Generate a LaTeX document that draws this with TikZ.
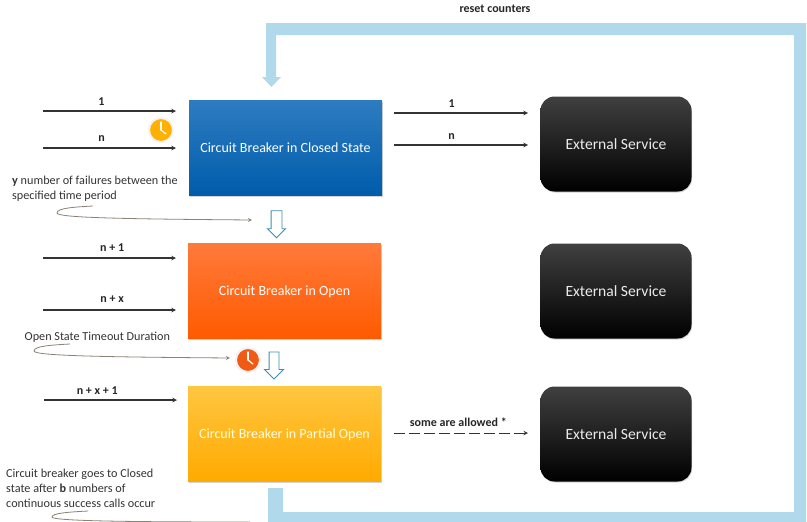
\documentclass[tikz,border=0pt]{standalone}
\usepackage{fontspec}
\setmainfont{Carlito}
\usetikzlibrary{shapes.arrows,shadows}

\definecolor{loopblue}{HTML}{B0DAEC}
\definecolor{stepblue}{HTML}{3A8FB0}
\definecolor{notegray}{HTML}{333333}
\definecolor{curvegray}{HTML}{8A8274}
\definecolor{closedtop}{HTML}{2E7CC0}
\definecolor{closedmid}{HTML}{0070C0}
\definecolor{closedlow}{HTML}{005CAB}
\definecolor{opentop}{HTML}{FF7A3A}
\definecolor{openmid}{HTML}{FF600A}
\definecolor{openlow}{HTML}{FF5A00}
\definecolor{partialtop}{HTML}{FFC640}
\definecolor{partialmid}{HTML}{FFC000}
\definecolor{partiallow}{HTML}{FFAA00}
\definecolor{clockyellow}{HTML}{FFB000}
\definecolor{clockorange}{HTML}{F05A14}

\tikzset{
  statebox/.style={draw=none,minimum width=193pt,minimum height=95pt,inner sep=0pt,
    text=white,font=\fontsize{14}{16}\selectfont,text height=12.5pt,text depth=3pt,
    drop shadow={shadow xshift=0.6pt,shadow yshift=-1pt,opacity=0.35}},
  servicebox/.style={draw=none,rounded corners=14pt,minimum width=151pt,minimum height=95pt,
    inner sep=0pt,text=white!92!black,top color=black!75,middle color=black,bottom color=black,
    font=\fontsize{15.6}{18}\selectfont,
    drop shadow={shadow xshift=0.6pt,shadow yshift=-1pt,opacity=0.35}},
  callline/.style={draw=black!80,line width=1.1pt,-stealth},
  calllabel/.style={above=3pt,inner sep=0pt,text=black!85,font=\fontsize{12}{14}\selectfont\bfseries},
  note/.style={anchor=north west,align=left,inner sep=0pt,text=notegray,
    font=\fontsize{12.2}{15}\selectfont},
  curveline/.style={draw=curvegray,line width=0.8pt},
  stepdown/.style={single arrow,draw=stepblue,fill=white,line width=0.9pt,shape border rotate=270,
    inner sep=0pt,minimum height=27pt},
  clockface/.style={circle,draw=white!95!black,line width=2pt,minimum size=24pt,inner sep=0pt,
    drop shadow={shadow xshift=0.4pt,shadow yshift=-0.6pt,opacity=0.25}},
  clockhand/.style={draw=white,line width=1.2pt,line cap=round}
}

\begin{document}
\begin{tikzpicture}[x=1pt,y=-1pt]
  \useasboundingbox (0,0) rectangle (807,522);

  % reset loop
  \fill[loopblue] (268,488) -- (283,488) -- (283,512) -- (794,512) -- (794,35) -- (276,35)
    -- (276,77) -- (281,77) -- (271.5,87) -- (262,77) -- (266,77) -- (266,23) -- (806,23)
    -- (806,522) -- (268,522) -- cycle;
  \node[inner sep=0pt,text=black!85,font=\fontsize{12}{14}\selectfont\bfseries] (resetlabel) at (495,8.5) {reset counters};

  % states
  \node[statebox,top color=closedtop,middle color=closedmid,bottom color=closedlow] (closed) at (285.5,148) {Circuit Breaker in Closed State};
  \node[statebox,top color=opentop,middle color=openmid,bottom color=openlow] (open) at (284.5,291) {Circuit Breaker in Open};
  \node[statebox,top color=partialtop,middle color=partialmid,bottom color=partiallow,text=white!90!yellow] (partial) at (284.5,434) {Circuit Breaker in Partial Open};

  % services
  \node[servicebox] (service1) at (616,144) {External Service};
  \node[servicebox] (service2) at (616,291) {External Service};
  \node[servicebox] (service3) at (616,434) {External Service};

  % ends of the calls
  \coordinate (in1)  at (43,111);
  \coordinate (to1)  at (176,111);
  \coordinate (inn)  at (43,148);
  \coordinate (ton)  at (176,148);
  \coordinate (in2)  at (43,258);
  \coordinate (to2)  at (176,258);
  \coordinate (in3)  at (43,310);
  \coordinate (to3)  at (176,310);
  \coordinate (in4)  at (44,400);
  \coordinate (to4)  at (177,400);
  \coordinate (out1) at (394,113);
  \coordinate (end1) at (528,113);
  \coordinate (outn) at (394,145);
  \coordinate (endn) at (528,145);
  \coordinate (out3) at (394,433);
  \coordinate (end3) at (528,433);

  \begin{scope}[every edge/.style={callline}]
    \path (in1)  edge node[calllabel,pos=0.44,above=1.5pt] {1} (to1);
    \path (inn)  edge node[calllabel,pos=0.44,above=3pt] {n} (ton);
    \path (in2)  edge node[calllabel,pos=0.52,above=3pt] {n + 1} (to2);
    \path (in3)  edge node[calllabel,pos=0.52,above=3.5pt] {n + x} (to3);
    \path (in4)  edge node[calllabel,pos=0.40,above=1.5pt] {n + x + 1} (to4);
    \path (out1) edge node[calllabel,pos=0.43,above=2pt] {1} (end1);
    \path (outn) edge node[calllabel,pos=0.43,above=2pt] {n} (endn);
    \path (out3) edge[dash pattern=on 11pt off 4pt,line width=1pt] node[calllabel,pos=0.48,above=3pt] {some are allowed *} (end3);
  \end{scope}

  % notes
  \node[note] (failnote) at (12,175.5) {\textbf{y} number of failures between the\\specified time period};
  \node[note] (timenote) at (24.5,331.5) {Open State Timeout Duration};
  \node[note] (backnote) at (6,468.5) {Circuit breaker goes to Closed\\state after \textbf{b} numbers of\\continuous success calls occur};

  \coordinate (failfrom) at (93,206);
  \coordinate (failtip)  at (57,213);
  \coordinate (failto)   at (252,220);
  \coordinate (timefrom) at (70,344);
  \coordinate (timetip)  at (34,351);
  \coordinate (timeto)   at (230,358);
  \coordinate (backfrom) at (88,511);
  \coordinate (backtip)  at (52,517);
  \coordinate (backto)   at (250,522);

  \draw[curveline,-stealth] (failfrom) .. controls +(-18,1) and +(0,-5) .. (failtip) .. controls +(0,5) and +(-120,-1) .. (failto);
  \draw[curveline,-stealth] (timefrom) .. controls +(-18,1) and +(0,-5) .. (timetip) .. controls +(0,5) and +(-120,-1) .. (timeto);
  \draw[curveline] (backfrom) .. controls +(-18,1) and +(0,-4) .. (backtip) .. controls +(0,4) and +(-120,0) .. (backto);

  % steps
  \node[stepdown,text width=10pt,single arrow head extend=3.5pt] (step1) at (276.5,221.5) {};
  \node[stepdown,text width=9pt,single arrow head extend=4.5pt] (step2) at (274,363) {};

  % clocks
  \node[clockface,fill=clockyellow] (clock1) at (161,130) {};
  \draw[clockhand] (clock1.center) -- ++(0,-8);
  \draw[clockhand] (clock1.center) -- ++(5,4);
  \node[clockface,fill=clockorange] (clock2) at (248,360) {};
  \draw[clockhand] (clock2.center) -- ++(0,-8);
  \draw[clockhand] (clock2.center) -- ++(5,4);
\end{tikzpicture}
\end{document}
